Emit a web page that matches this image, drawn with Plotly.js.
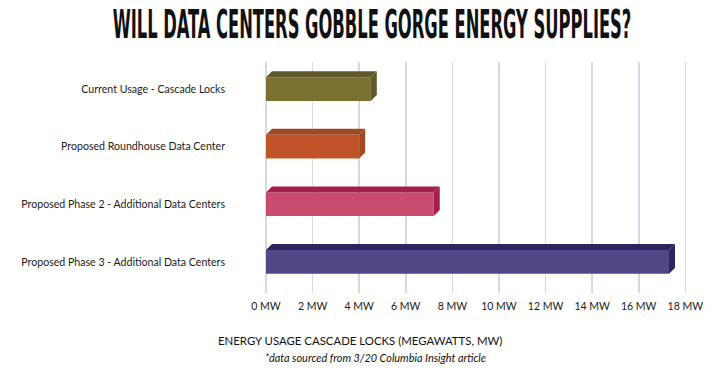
<!DOCTYPE html>
<html>
<head>
<meta charset="utf-8">
<script src="https://cdn.plot.ly/plotly-3.0.1.min.js"></script>
<style>html,body{margin:0;padding:0;background:#fff;}#chart{width:720px;height:382px;}</style>
</head>
<body>
<div id="chart"></div>
<script>
// ---- data ----
const categories = [
  "Current Usage - Cascade Locks",
  "Proposed Roundhouse Data Center",
  "Proposed Phase 2 - Additional Data Centers",
  "Proposed Phase 3 - Additional Data Centers"
];
const valuesMW = [4.5, 4.0, 7.2, 17.3];
const xTickValues = [0, 2, 4, 6, 8, 10, 12, 14, 16, 18];
const xTickLabels = ["0 MW", "2 MW", "4 MW", "6 MW", "8 MW", "10 MW", "12 MW", "14 MW", "16 MW", "18 MW"];

// ---- style ----
const frontColors = ["#7a7131", "#c05428", "#c84c70", "#514887"];
const darkColors  = ["#5f5a2b", "#9d4a26", "#a41f4c", "#2c2560"];
const W = 720, H = 382;
const margin = {l: 266, r: 30, t: 62, b: 89};
const xRange = [0, 18.2];
const yRange = [3.54, -0.47];
const barWidth = 0.41;
const depthPx = 6;
const titleWidthPx = 519, titleCapTop = 10, titleBaseline = 38;

const plotW = W - margin.l - margin.r;
const plotH = H - margin.t - margin.b;
const dx = depthPx * (xRange[1] - xRange[0]) / plotW;
const dy = depthPx * Math.abs(yRange[0] - yRange[1]) / plotH;

const yIdx = categories.map((c, i) => i);

const shapes = [];
valuesMW.forEach((v, i) => {
  const top = i - barWidth / 2, bot = i + barWidth / 2;
  shapes.push({
    type: 'path', xref: 'x', yref: 'y', layer: 'above',
    path: `M 0 ${top} L ${v} ${top} L ${v + dx} ${top - dy} L ${dx} ${top - dy} Z`,
    fillcolor: darkColors[i], line: {width: 0}
  });
  shapes.push({
    type: 'path', xref: 'x', yref: 'y', layer: 'above',
    path: `M ${v} ${top} L ${v + dx} ${top - dy} L ${v + dx} ${bot - dy} L ${v} ${bot} Z`,
    fillcolor: darkColors[i], line: {width: 0}
  });
});

const trace = {
  type: 'bar', orientation: 'h',
  x: valuesMW, y: yIdx, width: barWidth,
  marker: {color: frontColors, line: {width: 0}},
  hoverinfo: 'skip'
};

const baseFont = "Lato, 'Noto Sans', sans-serif";
const titleFontFamily = "'Liberation Sans Narrow', 'DejaVu Sans Condensed', sans-serif";

const layout = {
  width: W, height: H,
  margin: margin,
  paper_bgcolor: '#ffffff', plot_bgcolor: '#ffffff',
  showlegend: false,
  title: {
    text: 'WILL DATA CENTERS GOBBLE GORGE ENERGY SUPPLIES?',
    font: {family: titleFontFamily, size: 38, color: '#111', weight: 700},
    x: 372 / W, xanchor: 'center', xref: 'container',
    y: 1 - 24 / H, yanchor: 'middle', yref: 'container'
  },
  xaxis: {
    range: xRange, tickmode: 'array', tickvals: xTickValues, ticktext: xTickLabels,
    showgrid: true, gridcolor: '#d3dbde', gridwidth: 1.5,
    zeroline: true, zerolinecolor: '#d3dbde', zerolinewidth: 1.5,
    showline: false, ticks: '', tickfont: {family: baseFont, size: 10.5, color: '#1a1a1a'},
    ticklabelstandoff: 5, fixedrange: true
  },
  yaxis: {
    range: yRange, tickmode: 'array', tickvals: yIdx, ticktext: categories,
    showgrid: false, zeroline: false, showline: false, ticks: '',
    tickfont: {family: baseFont, size: 10.6, color: '#1a1a1a'},
    ticklabelstandoff: 40, fixedrange: true
  },
  shapes: shapes,
  annotations: [
    {
      text: 'ENERGY USAGE CASCADE LOCKS (MEGAWATTS, MW)',
      xref: 'paper', yref: 'paper',
      x: (360 - margin.l) / plotW, y: -(340 - (H - margin.b)) / plotH,
      xanchor: 'center', yanchor: 'middle', showarrow: false,
      font: {family: baseFont, size: 11.4, color: '#111'}
    },
    {
      text: '<i>*data sourced from 3/20 Columbia Insight article</i>',
      xref: 'paper', yref: 'paper',
      x: (375 - margin.l) / plotW, y: -(357 - (H - margin.b)) / plotH,
      xanchor: 'center', yanchor: 'middle', showarrow: false,
      font: {family: baseFont, size: 10.9, color: '#111'}
    }
  ]
};

const gd = document.getElementById('chart');
Plotly.newPlot(gd, [trace], layout, {displayModeBar: false, staticPlot: true}).then(() => {
  const t = gd.querySelector('.gtitle');
  if (!t) return;
  const w = t.getBBox().width;
  const newSize = 38 * titleWidthPx / w;
  return Plotly.relayout(gd, {'title.font.size': newSize}).then(() => {
    const tt = gd.querySelector('.gtitle');
    const capH = 0.72 * newSize;
    const k = (titleBaseline - titleCapTop) / capH;
    tt.setAttribute('y', titleBaseline);
    tt.setAttribute('dy', 0);
    tt.querySelectorAll('tspan').forEach(s => { s.removeAttribute('dy'); s.removeAttribute('y'); });
    tt.setAttribute('transform', `translate(0 ${titleBaseline}) scale(1 ${k}) translate(0 ${-titleBaseline})`);
  });
});
</script>
</body>
</html>
